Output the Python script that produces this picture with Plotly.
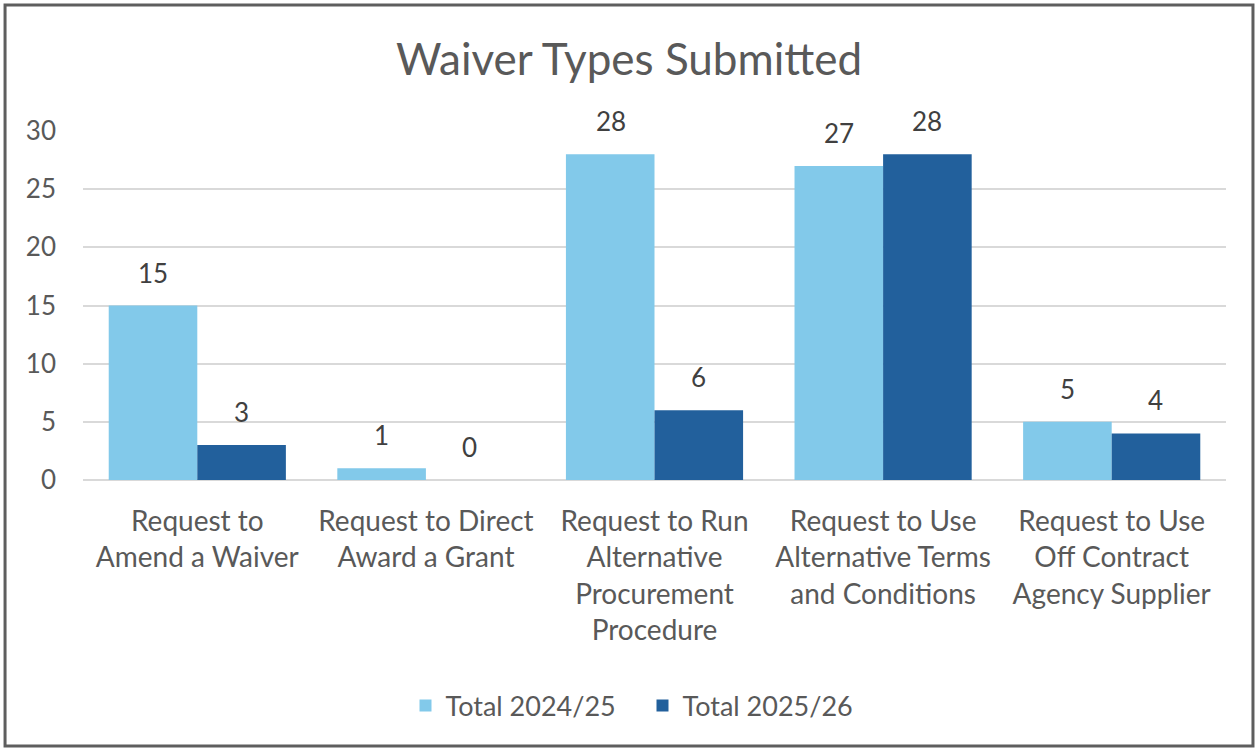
import plotly.graph_objects as go

categories = [
    "Request to<br>Amend a Waiver",
    "Request to Direct<br>Award a Grant",
    "Request to Run<br>Alternative<br>Procurement<br>Procedure",
    "Request to Use<br>Alternative Terms<br>and Conditions",
    "Request to Use<br>Off Contract<br>Agency Supplier",
]
total_2024_25 = [15, 1, 28, 27, 5]
total_2025_26 = [3, 0, 6, 28, 4]
y_ticks = [0, 5, 10, 15, 20, 25, 30]

FONT = "Lato, Open Sans, Arial, sans-serif"
GRAY = "#595959"
LABEL = "#404040"

fig = go.Figure()
fig.add_trace(go.Bar(
    name="Total 2024/25", x=categories, y=total_2024_25,
    marker=dict(color="#82C9EA", line=dict(width=0)),
))
fig.add_trace(go.Bar(
    name="Total 2025/26", x=categories, y=total_2025_26,
    marker=dict(color="#22609C", line=dict(width=0)),
))

# data labels, placed above each bar (bar centre offset ~44 px from category centre)
annotations = []
for series, shift in ((total_2024_25, -44), (total_2025_26, 44)):
    for cat, val in zip(categories, series):
        annotations.append(dict(
            x=cat, y=val, xref="x", yref="y", text=str(val), showarrow=False,
            xshift=shift, yshift=15, yanchor="bottom",
            font=dict(size=26, color=LABEL, family=FONT),
        ))

fig.update_layout(
    width=1258, height=751,
    margin=dict(l=83, r=32, t=131, b=271),
    paper_bgcolor="white", plot_bgcolor="white",
    barmode="group", bargap=0.225, bargroupgap=0,
    title=dict(text="Waiver Types Submitted", x=0.5, xanchor="center",
               y=1 - 60 / 751, yanchor="middle",
               font=dict(size=44, color=GRAY, family=FONT)),
    font=dict(family=FONT, color=GRAY, size=26),
    legend=dict(orientation="h", x=0.4895, xanchor="center", y=-0.6476, yanchor="middle",
                font=dict(size=27, color=GRAY, family=FONT), traceorder="normal",
                itemwidth=30, entrywidth=192, entrywidthmode="pixels"),
    yaxis=dict(range=[0, 30], tickvals=y_ticks, showgrid=True, gridcolor="#D9D9D9",
               gridwidth=1.5, zeroline=True, zerolinecolor="#D9D9D9", zerolinewidth=1.5,
               tickfont=dict(size=26, color=GRAY), ticks="", showline=False,
               ticklabelstandoff=26),
    xaxis=dict(tickfont=dict(size=28, color=GRAY), ticks="", showline=False,
               tickangle=0, ticklabelstandoff=22),
    annotations=annotations,
    shapes=[dict(type="rect", xref="paper", yref="paper",
                 x0=-0.0682, x1=1.0236, y0=-0.762, y1=1.361,
                 line=dict(color="#5E5E5E", width=3), fillcolor="rgba(0,0,0,0)")],
)

fig.write_html("out.html", config={"displayModeBar": False},
               post_script="document.body.style.margin='0';document.body.style.overflow='hidden';")
